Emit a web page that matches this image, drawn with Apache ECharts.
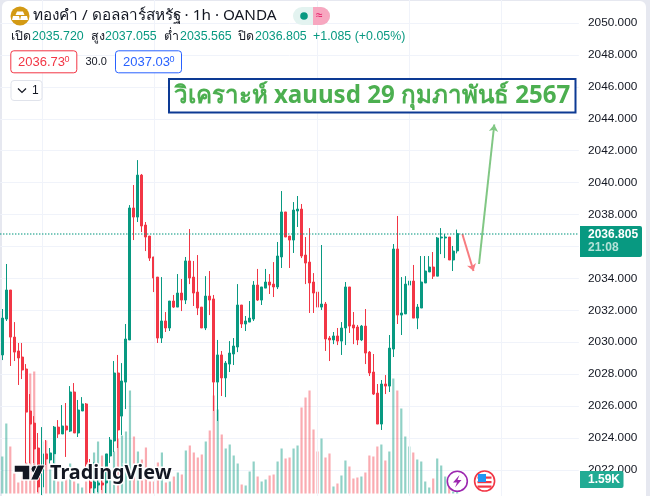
<!DOCTYPE html>
<html><head><meta charset="utf-8">
<style>
html,body{margin:0;padding:0;width:650px;height:496px;overflow:hidden;background:#e6e8f0}
#paper{position:absolute;left:2px;top:1px;width:644px;height:495px;background:#fff;border-radius:6px 6px 0 0}
#c{position:absolute;left:0;top:0;width:650px;height:496px}
</style>
<script src="https://cdn.jsdelivr.net/npm/echarts@6/dist/echarts.min.js"></script>
</head><body><div id="paper"></div><div id="c"></div>
<script>
// [open, close, low, high]
const candles = [
[2029.20,2031.51,2028.88,2032.08],[2031.45,2033.27,2031.33,2034.90],[2033.27,2030.32,2028.51,2033.27],[2030.32,2029.38,2028.82,2031.26],
[2029.45,2029.01,2027.32,2029.95],[2029.07,2028.26,2027.69,2029.95],[2028.32,2025.62,2022.43,2028.63],[2025.69,2024.87,2022.43,2026.75],
[2024.93,2023.31,2022.43,2025.37],[2023.37,2020.93,2020.61,2024.31],[2020.93,2023.00,2020.42,2024.68],[2023.00,2022.68,2022.30,2023.87],
[2022.62,2023.06,2022.18,2023.37],[2023.00,2024.68,2022.43,2024.75],[2024.68,2024.25,2024.00,2025.12],[2024.25,2024.75,2024.25,2026.06],
[2024.75,2024.50,2022.81,2026.19],[2024.43,2026.88,2024.37,2027.25],[2026.88,2024.31,2024.31,2027.44],[2024.31,2025.75,2024.06,2026.38],
[2025.69,2026.13,2025.69,2026.56],[2026.13,2022.37,2022.18,2026.19],[2021.24,2020.86,2020.55,2022.68],[2020.86,2021.24,2020.55,2022.49],
[2021.05,2021.18,2020.61,2021.68],[2021.18,2021.05,2020.74,2021.49],[2021.18,2023.00,2020.55,2023.00],[2022.87,2023.87,2022.43,2024.06],
[2023.81,2028.07,2023.12,2028.82],[2028.07,2024.50,2023.37,2029.20],[2025.37,2027.57,2024.18,2028.69],[2027.50,2030.20,2025.81,2031.14],
[2030.14,2038.41,2030.14,2038.59],[2038.41,2037.84,2036.40,2039.85],[2037.84,2040.47,2037.53,2041.41],[2040.47,2037.28,2036.90,2040.54],
[2037.34,2036.59,2035.71,2037.53],[2036.65,2035.27,2035.09,2036.65],[2035.34,2034.02,2033.14,2035.34],[2034.08,2030.26,2029.95,2034.08],
[2030.26,2031.33,2029.95,2034.08],[2031.33,2030.89,2030.64,2031.89],[2030.89,2032.58,2030.70,2032.58],[2032.58,2032.20,2032.14,2032.96],
[2032.20,2033.08,2032.20,2034.27],[2033.08,2032.64,2031.95,2033.96],[2032.64,2035.09,2032.39,2035.34],[2035.09,2034.02,2033.64,2037.09],
[2034.08,2033.08,2032.27,2035.09],[2033.14,2032.14,2031.70,2035.46],[2032.20,2030.89,2030.89,2032.20],[2030.89,2032.89,2030.76,2034.14],
[2032.89,2032.64,2031.70,2034.46],[2032.71,2027.50,2025.69,2032.96],[2027.50,2029.20,2025.06,2030.14],[2029.20,2027.76,2026.63,2029.45],
[2027.76,2028.69,2026.56,2028.82],[2028.63,2029.32,2028.13,2030.07],[2029.26,2029.76,2028.57,2030.26],[2029.70,2032.33,2029.38,2033.64],
[2032.33,2031.14,2030.89,2032.33],[2031.14,2031.33,2030.70,2031.64],[2031.26,2031.51,2031.26,2032.58],[2031.45,2033.58,2031.33,2033.83],
[2033.58,2032.64,2032.58,2034.59],[2032.64,2033.46,2032.33,2033.46],[2033.39,2033.77,2033.39,2034.59],[2033.77,2033.58,2033.02,2034.27],
[2033.64,2033.46,2032.83,2035.02],[2033.46,2035.40,2033.33,2036.28],[2035.34,2038.16,2034.65,2039.47],[2038.16,2036.59,2036.59,2038.16],
[2036.65,2036.40,2034.65,2036.65],[2036.40,2038.28,2035.59,2038.78],[2038.22,2038.34,2037.22,2039.16],[2038.34,2035.40,2035.27,2038.66],
[2035.46,2034.96,2033.64,2036.59],[2035.02,2033.71,2031.83,2037.15],[2033.77,2033.08,2031.83,2034.33],[2033.14,2032.20,2029.76,2033.14],
[2032.20,2032.39,2032.02,2036.09],[2032.39,2030.20,2029.45,2032.52],[2030.26,2030.14,2028.82,2030.39],[2030.14,2030.39,2029.88,2030.64],
[2030.39,2030.07,2029.82,2030.89],[2030.07,2030.89,2029.20,2031.26],[2030.89,2033.46,2029.82,2033.77],[2033.46,2031.01,2030.58,2033.46],
[2031.08,2030.89,2029.88,2031.89],[2030.95,2030.14,2029.82,2031.08],[2030.14,2031.01,2030.07,2031.08],[2031.01,2029.32,2028.63,2032.08],
[2029.38,2028.07,2027.88,2029.45],[2028.13,2026.75,2026.69,2029.26],[2026.81,2024.87,2024.87,2027.38],[2024.87,2027.38,2024.50,2027.63],
[2027.38,2027.25,2026.75,2027.94],[2027.25,2029.63,2026.88,2030.45],[2029.57,2035.84,2029.07,2036.15],[2035.84,2031.70,2031.14,2037.91],
[2031.70,2031.83,2030.45,2034.08],[2031.77,2033.64,2031.77,2034.14],[2033.58,2033.83,2031.77,2035.65],[2033.83,2031.51,2031.51,2034.84],
[2031.51,2032.20,2030.82,2032.39],[2032.14,2033.77,2032.14,2035.40],[2033.71,2034.46,2033.71,2035.40],[2034.40,2034.71,2034.40,2035.40],
[2034.71,2034.14,2033.96,2035.65],[2034.14,2036.53,2034.14,2036.59],[2036.53,2036.59,2035.52,2037.15],[2036.53,2036.59,2035.27,2036.78],
[2036.59,2035.15,2035.15,2036.59],[2035.15,2035.71,2034.46,2036.03],[2035.72,2036.805,2035.565,2037.055]];
// volume in thousands
const volumes = [37,70,47,20,11,17,31,120,122,40,52,53,24,39,12,12,14,30,12,10,6,12,8,41,52,38,30,16,42,55,
58,62,103,57,42,34,46,12,12,31,41,11,12,17,21,19,43,48,41,36,39,52,63,98,84,59,45,49,38,30,
9,8,22,32,17,12,14,18,19,32,45,35,36,45,48,86,96,103,64,42,55,36,40,7,10,18,33,27,15,16,
17,21,38,37,47,49,33,42,115,103,85,57,47,41,34,32,12,6,15,35,28,17,8,2,1.59];
const lastPrice = 2036.805;
const timeGridBars = [10,38,79,102,125];
const arrowDown = [[115.8,2036.78],[118.6,2034.46]];
const arrowUp = [[119.98,2034.9],[123.8,2043.64]];
const barSlots = 145;
const axisMin = 2020, axisMax = 2052, axisStep = 2;
const volumeMax = 130;

const UP='#089981', DOWN='#f23645', INK='#131722', GRID='#f0f3fa';
const FONT='"Liberation Sans","Noto Sans",sans-serif';
const WIDE='"Noto Sans","Liberation Sans",sans-serif';
const cats = Array.from({length:barSlots},(_,i)=>String(i));
const isUp = c => c[1]>=c[0];
const T=(x,y,text,fill,fontSize,extra)=>({type:'text',silent:true,z:50,style:Object.assign({x,y,text,fill,fontSize,fontFamily:FONT,verticalAlign:'middle'},extra||{})});
const R=(x,y,w,h,fill,stroke,r,lw,z)=>({type:'rect',silent:true,z:z||49,shape:{x,y,width:w,height:h,r:r||0},style:{fill:fill,stroke:stroke||null,lineWidth:lw||1}});
const POLY=(points,fill,stroke,lw,z)=>({type:'polygon',silent:true,z:z||51,shape:{points},style:{fill,stroke:stroke||null,lineWidth:lw||0}});
const LINE=(points,stroke,lw,z)=>({type:'polyline',silent:true,z:z||51,shape:{points},style:{fill:null,stroke,lineWidth:lw}});
const C=(cx,cy,r,fill,stroke,lw,z)=>({type:'circle',silent:true,z:z||51,shape:{cx,cy,r},style:{fill,stroke:stroke||null,lineWidth:lw||0}});

const graphics=[
 // symbol line
 C(20,16,9.5,'#d39a14'),
 POLY([[17,11.5],[23,11.5],[24.5,15],[15.5,15]],'#fff'),
 POLY([[13,16],[19,16],[20,20],[12,20]],'#fff'),
 POLY([[21,16],[27,16],[28,20],[20,20]],'#fff'),
 T(33,16,'ทองคำ / ดอลลาร์สหรัฐ · 1h · OANDA',INK,15.3,{fontFamily:WIDE}),
 R(293,7,37,18,'#e3f3f0',null,9),
 R(313,7,17,18,'#f7a7c0',null,[0,9,9,0]),
 C(304,16,3.8,UP),
 T(316,16,'≈','#e0115f',12),
 // OHLC line
 T(11,37,'เปิด',INK,12.4),T(32,37,'2035.720',UP,12.4),
 T(90.5,37,'สูง',INK,12.4),T(105,37,'2037.055',UP,12.4),
 T(164,37,'ต่ำ',INK,12.4),T(180,37,'2035.565',UP,12.4),
 T(238,37,'ปิด',INK,12.4),T(255,37,'2036.805',UP,12.4),
 T(313,37,'+1.085 (+0.05%)',UP,12.4),
 // bid / ask
 R(10.8,50.8,66,22,'#fff',DOWN,3),
 T(18,62,'2036.73',DOWN,13),T(64.5,60,'0',DOWN,9),
 T(85.5,62,'30.0',INK,11),
 R(115.5,50.8,66,22,'#fff','#2962ff',3),
 T(123,62,'2037.03',"#2962ff",13),T(169.5,60,'0','#2962ff',9),
 R(11,80.5,31,20,'#fff','#e0e3eb',3),
 LINE([[18,88.5],[22,92.5],[26,88.5]],INK,1.2),
 T(32,90.5,'1',INK,12),
 // title
 R(169,79,406.5,33.5,'#fff','#0d3a94',0,2),
 T(372,96,'วิเคราะห์ xauusd 29 กุมภาพันธ์ 2567','#4caf50',24.1,{fontWeight:'bold',align:'center',fontFamily:WIDE}),
 // price tags
 R(580,226,62,31,UP,null,[0,2,2,0]),
 T(588,234.5,'2036.805','#fff',12,{fontWeight:'bold'}),
 T(588,248,'21:08','#b5e2d8',12,{fontWeight:'bold'}),
 R(580,471,43.5,17,'#22ab94',null,[0,2,2,0]),
 T(588,479.5,'1.59K','#fff',12,{fontWeight:'bold'}),
 // TradingView mark
 POLY([[14,465],[30,465],[30,480],[22,480],[22,472.5],[14,472.5]],INK,'#fff',1.5),
 C(34.5,469,3.6,INK,'#fff',1),
 POLY([[45,465],[38,480],[30.5,480],[37.5,465]],INK,'#fff',1),
 T(50,473.5,'TradingView',INK,19.8,{fontWeight:'bold',stroke:'#fff',lineWidth:3,fontFamily:WIDE}),
 // event icons
 C(457.3,481.3,10,'#fff','#9c27b0',1.6),
 POLY([[459.5,475],[453,482.5],[457,482.5],[455,487.5],[461.5,480],[457.5,480]],'#9c27b0'),
 C(484.6,481,10,'#fff',DOWN,1.6),
 R(477.5,476.5,14,2.2,DOWN,null,0,0,51),
 R(477.5,481,14,2.2,DOWN,null,0,0,51),
 R(477.5,485.5,14,2.2,DOWN,null,0,0,51),
 R(478,474,8,8,'#2196f3',null,0,0,52),
];

const chart=echarts.init(document.getElementById('c'),null,{renderer:'canvas',width:650,height:496});
const pxTop=23-(axisMax-2050)*15.96, pxBottom=23+(2050-axisMin)*15.96;
chart.setOption({
 animation:false,backgroundColor:'transparent',
 grid:[
  {left:0.3,width:3.99*barSlots,top:pxTop,height:pxBottom-pxTop,containLabel:false,outerBoundsMode:'none'},
  {left:0.3,width:3.99*barSlots,top:493.5-volumeMax,height:volumeMax,containLabel:false,outerBoundsMode:'none'}
 ],
 xAxis:[
  {type:'category',data:cats,gridIndex:0,axisLine:{show:false},axisTick:{show:false},axisLabel:{show:false},splitLine:{show:false}},
  {type:'category',data:cats,gridIndex:1,axisLine:{show:false},axisTick:{show:false},axisLabel:{show:false},splitLine:{show:false}},
  {type:'value',min:0,max:barSlots,gridIndex:0,show:false}
 ],
 yAxis:[
  {type:'value',position:'right',min:axisMin,max:axisMax,interval:axisStep,gridIndex:0,scale:true,
   axisLine:{show:false},axisTick:{show:false},
   axisLabel:{color:INK,fontSize:11.8,fontFamily:FONT,margin:9.2,padding:[3,0,0,0],showMinLabel:false,showMaxLabel:false,formatter:v=>v.toFixed(3)},
   splitLine:{show:true,lineStyle:{color:GRID,width:1}}},
  {type:'value',min:0,max:volumeMax,gridIndex:1,show:false,splitLine:{show:false}}
 ],
 series:[
  {type:'line',xAxisIndex:0,yAxisIndex:0,data:[],z:1,silent:true,symbol:'none',
   markLine:{silent:true,symbol:'none',animation:false,label:{show:false},
    data:[
     ...timeGridBars.map(i=>({xAxis:String(i),lineStyle:{color:GRID,width:1,type:'solid'}})),
     {yAxis:lastPrice,lineStyle:{color:UP,width:1.5,type:[1,2]}}
    ]}},
  {type:'bar',xAxisIndex:1,yAxisIndex:1,barWidth:2.2,z:2,silent:true,
   data:volumes.map((v,i)=>({value:v,itemStyle:{color:isUp(candles[i])?'rgba(8,153,129,0.45)':'rgba(242,54,69,0.42)'}}))},
  {type:'candlestick',xAxisIndex:0,yAxisIndex:0,barWidth:2.5,z:3,clip:false,silent:true,
   itemStyle:{color:UP,color0:DOWN,borderColor:UP,borderColor0:DOWN,borderWidth:1},
   data:candles},
  {type:'lines',coordinateSystem:'cartesian2d',xAxisIndex:2,yAxisIndex:0,z:4,silent:true,
   symbol:['none','arrow'],symbolSize:7,
   lineStyle:{color:'#f77c80',width:2,opacity:1},
   data:[{coords:arrowDown}]},
  {type:'lines',coordinateSystem:'cartesian2d',xAxisIndex:2,yAxisIndex:0,z:4,silent:true,
   symbol:['none','arrow'],symbolSize:7,
   lineStyle:{color:'#81c784',width:2,opacity:1},
   data:[{coords:arrowUp}]}
 ],
 graphic:{elements:graphics}
});
</script></body></html>
